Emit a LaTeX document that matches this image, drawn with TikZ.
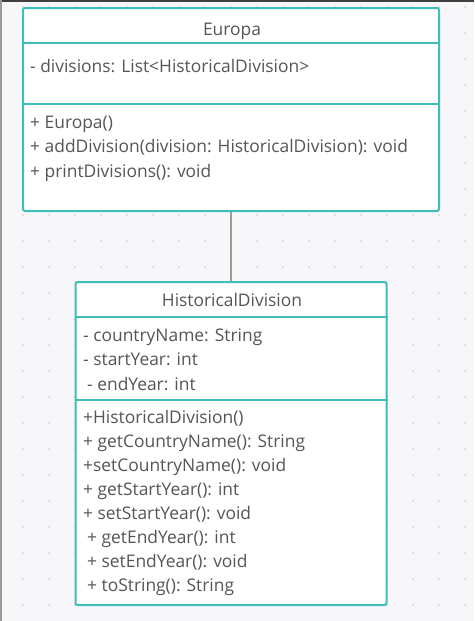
\documentclass[tikz,border=0pt]{standalone}
\usepackage{fontspec}
\setmainfont{Open Sans}
\usepackage{tikz}
\usetikzlibrary{positioning,calc}

\definecolor{umlteal}{HTML}{3FBDB8}
\definecolor{umltext}{HTML}{555555}
\definecolor{canvasbg}{HTML}{F7F7F9}
\definecolor{griddot}{HTML}{D6D6DB}
\definecolor{linkgray}{HTML}{9B9B9B}

\begin{document}
\begin{tikzpicture}[
    x=1pt, y=-1pt,
    classbox/.style={draw=umlteal, line width=2pt, rounded corners=2pt, fill=white, inner sep=0pt},
    divider/.style={draw=umlteal, line width=2pt},
    title/.style={font=\fontsize{17.4}{20}\selectfont, text=umltext, inner sep=0pt, anchor=base},
    member/.style={font=\fontsize{17.4}{20}\selectfont, text=umltext, inner sep=0pt, anchor=base west},
    link/.style={draw=linkgray, line width=2pt},
  ]
    % Canvas
    \fill[canvasbg] (0,0) rectangle (474,621);
    \useasboundingbox (0,0) rectangle (474,621);
    \foreach \gx in {0,...,17}
      \foreach \gy in {0,...,23}
        \fill[griddot] (23+26*\gx, 7+26*\gy) circle (1.2pt);
    \draw[black!75, line width=2.5pt] (0,1) -- (474,1);
    \draw[black!40, line width=2pt] (1,0) -- (1,621);

    % Europa
    \node[classbox, minimum width=416pt, minimum height=203pt] (europa) at (231,109.5) {};
    \draw[divider] ([yshift=-36pt]europa.north west) -- ([yshift=-36pt]europa.north east);
    \draw[divider] ([yshift=-97pt]europa.north west) -- ([yshift=-97pt]europa.north east);
    \node[title] (europa-name) at (232,35) {Europa};
    \node[member] (europa-attr) at (30,72) {- divisions: List<HistoricalDivision>};
    \foreach \txt [count=\i] in {+ Europa(), + addDivision(division: HistoricalDivision): void, + printDivisions(): void}
      \node[member] (europa-op-\i) at (30,128+24.5*\i-24.5) {\txt};

    % HistoricalDivision
    \node[classbox, minimum width=311pt, minimum height=323pt, below=69pt of europa] (hdiv) {};
    \draw[divider] ([yshift=-36pt]hdiv.north west) -- ([yshift=-36pt]hdiv.north east);
    \draw[divider] ([yshift=-119pt]hdiv.north west) -- ([yshift=-119pt]hdiv.north east);
    \node[title] (hdiv-name) at (232,306) {HistoricalDivision};
    \foreach \dx/\txt [count=\i] in {0/{- countryName: String}, 0/{- startYear: int}, 4/{- endYear: int}}
      \node[member] (hdiv-attr-\i) at (83+\dx,341+24.5*\i-24.5) {\txt};
    \foreach \dx/\txt [count=\i] in {0/{+HistoricalDivision()}, 0/{+ getCountryName(): String},
        0/{+setCountryName(): void}, 0/{+ getStartYear(): int}, 0/{+ setStartYear(): void},
        4/{+ getEndYear(): int}, 4/{+ setEndYear(): void}, 4/{+ toString(): String}}
      \node[member] (hdiv-op-\i) at (83+\dx,423+24.1*\i-24.1) {\txt};

    % Association
    \draw[link] (europa.south) -- (hdiv.north);
\end{tikzpicture}
\end{document}
